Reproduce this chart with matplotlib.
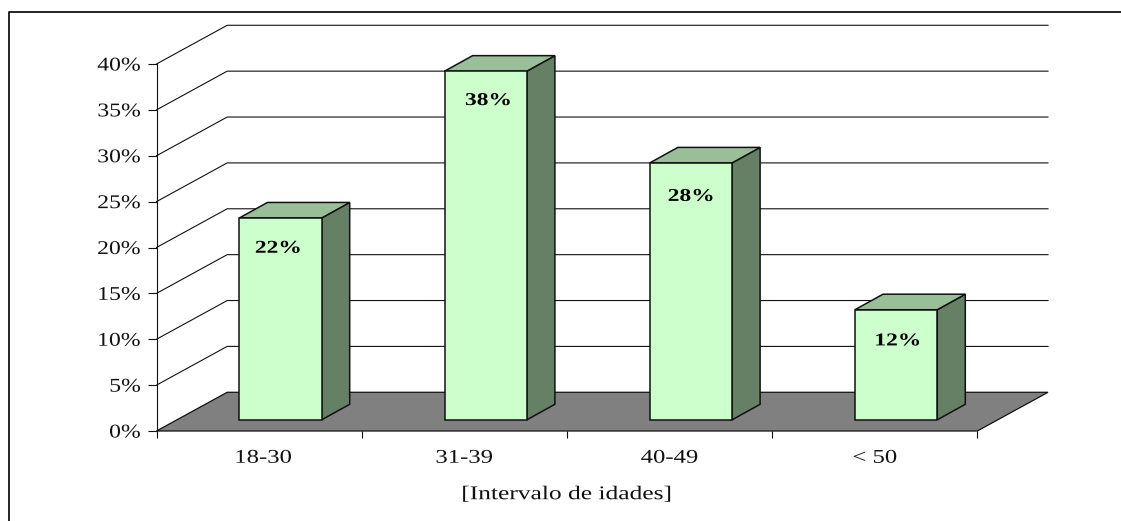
import matplotlib
matplotlib.use('Agg')
import matplotlib.pyplot as plt
from matplotlib.lines import Line2D
from matplotlib.patches import Polygon
from matplotlib.patheffects import AbstractPathEffect
from matplotlib.transforms import Affine2D

# Age bands and their share of respondents (%)
categories = ['18-30', '31-39', '40-49', '< 50']
values = [22, 38, 28, 12]
y_ticks = [0, 5, 10, 15, 20, 25, 30, 35, 40]

# Pseudo-3D geometry, in data units
wall_dx, wall_dy = 0.3445, 4.22
bar_dx, bar_dy = 0.1365, 1.69
bar_left = 0.404
bar_width = 0.401
bar_base = 1.22

# Hand placement of the labels
label_shift = [-0.012, 0.012, 0.0, 0.007]
label_drop = [3.3, 3.2, 3.65, 3.4]
category_shift = [0.02, 0.0, 0.0, 0.0]

front_color = '#CCFFCC'
top_color = '#99BF99'
side_color = '#668066'
floor_color = '#808080'
line_color = '#111111'


class WideText(AbstractPathEffect):
    """Stretch glyphs sideways, keeping the text's alignment anchor in place."""

    def __init__(self, stretch=1.3, align=0.5):
        super().__init__()
        self.stretch = stretch
        self.align = align

    def draw_path(self, renderer, gc, tpath, affine, rgbFace=None):
        width = tpath.get_extents().x1
        shift = -(self.stretch - 1) * width * self.align
        wide = Affine2D().scale(self.stretch, 1).translate(shift, 0) + affine
        renderer.draw_path(gc, tpath, wide, rgbFace)


plt.rcParams['font.family'] = ['Liberation Serif', 'DejaVu Serif']

W, H = 1121, 521
fig = plt.figure(figsize=(W / 100, H / 100), dpi=100)
ax = fig.add_axes([156.5 / W, (H - 431) / H, 820.8 / W, 367 / H])
ax.set_xlim(0, len(categories))
ax.set_ylim(0, 40)

for name in ['top', 'right', 'bottom']:
    ax.spines[name].set_visible(False)
ax.spines['left'].set_linewidth(0.8)
ax.spines['left'].set_color(line_color)

# Back wall grid lines
x_end = len(categories)
for t in y_ticks[1:]:
    ax.plot([0, wall_dx, x_end + wall_dx], [t, t + wall_dy, t + wall_dy],
            color=line_color, lw=0.8, clip_on=False, zorder=1)

# Floor
ax.add_patch(Polygon([(0, 0), (wall_dx, wall_dy), (x_end + wall_dx, wall_dy), (x_end, 0)],
                     facecolor=floor_color, edgecolor=line_color, lw=0.9, clip_on=False, zorder=2))

# Bars: side and top faces, then the front
for i, v in enumerate(values):
    x0 = i + bar_left
    x1 = x0 + bar_width
    y0 = bar_base
    y1 = bar_base + v
    ax.add_patch(Polygon([(x1, y0), (x1 + bar_dx, y0 + bar_dy), (x1 + bar_dx, y1 + bar_dy), (x1, y1)],
                         facecolor=side_color, edgecolor=line_color, lw=1.1, clip_on=False, zorder=3))
    ax.add_patch(Polygon([(x0, y1), (x0 + bar_dx, y1 + bar_dy), (x1 + bar_dx, y1 + bar_dy), (x1, y1)],
                         facecolor=top_color, edgecolor=line_color, lw=1.1, clip_on=False, zorder=3))
    ax.add_patch(Polygon([(x0, y0), (x0, y1), (x1, y1), (x1, y0)],
                         facecolor=front_color, edgecolor=line_color, lw=1.1, clip_on=False, zorder=4))
    ax.text(x0 + bar_width / 2 + label_shift[i], y1 - label_drop[i], f'{v}%', ha='center', va='center',
            fontsize=13, fontweight='bold', color='black', zorder=5,
            path_effects=[WideText(1.3, 0.5)])

# Axis ticks and labels
ax.set_yticks(y_ticks)
ax.set_yticklabels([f'{t}%' for t in y_ticks], fontsize=14, color='#111111',
                   path_effects=[WideText(1.22, 1.0)])
ax.tick_params(axis='y', length=6.5, width=0.8, color=line_color, pad=5)

ax.set_xticks(range(len(categories) + 1))
ax.set_xticklabels([])
ax.set_xticks([i + 0.5 + category_shift[i] for i in range(len(categories))], minor=True)
ax.set_xticklabels(categories, minor=True, fontsize=14, color='#111111',
                   path_effects=[WideText(1.27, 0.5)])
ax.tick_params(axis='x', which='major', length=5, width=0.8, color=line_color)
ax.tick_params(axis='x', which='minor', length=0, pad=13.5)

ax.set_xlabel('[Intervalo de idades]', fontsize=14, color='#111111', labelpad=14,
              path_effects=[WideText(1.31, 0.5)])

# Frame around the chart area, open at the right and bottom
fig.add_artist(Line2D([8.5 / W, 8.5 / W, 1], [0, (H - 11.5) / H, (H - 11.5) / H],
                      color='black', lw=1.2, transform=fig.transFigure))

fig.savefig('out.png', dpi=100, facecolor='white')
